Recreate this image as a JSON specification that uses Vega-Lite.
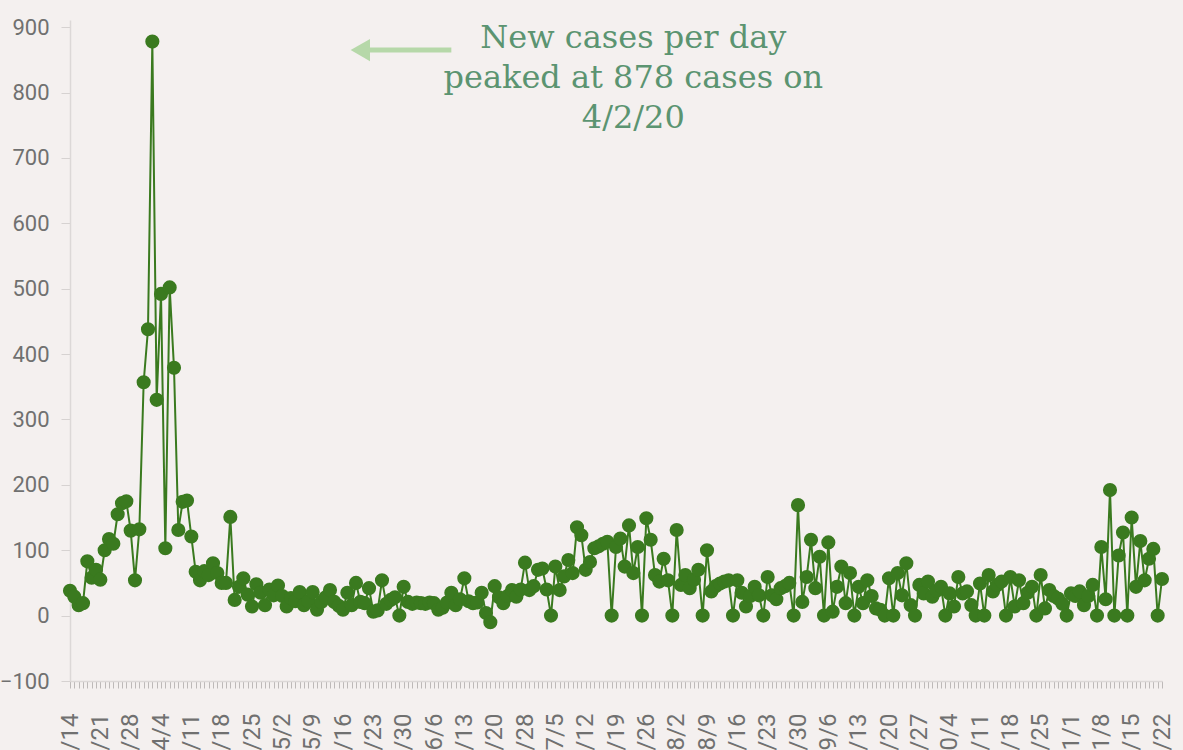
{
  "$schema": "https://vega.github.io/schema/vega-lite/v6.json",
  "autosize": {"type": "none"},
  "padding": {"left": 70, "top": 20, "right": 6, "bottom": 69},
  "width": 1107,
  "height": 661,
  "background": "#f4f0ef",
  "config": {"view": {"stroke": null}},
  "datasets": {
    "cases": [
      {"d":"3/14","v":38},{"d":"3/15","v":29},{"d":"3/16","v":16},{"d":"3/17","v":19},{"d":"3/18","v":83},{"d":"3/19","v":58},{"d":"3/20","v":70},{"d":"3/21","v":55},{"d":"3/22","v":100},{"d":"3/23","v":117},{"d":"3/24","v":110},{"d":"3/25","v":155},{"d":"3/26","v":172},{"d":"3/27","v":175},{"d":"3/28","v":130},{"d":"3/29","v":54},{"d":"3/30","v":132},{"d":"3/31","v":357},
      {"d":"4/1","v":438},{"d":"4/2","v":878},{"d":"4/3","v":330},{"d":"4/4","v":492},{"d":"4/5","v":103},{"d":"4/6","v":502},{"d":"4/7","v":379},{"d":"4/8","v":131},{"d":"4/9","v":174},{"d":"4/10","v":176},{"d":"4/11","v":121},{"d":"4/12","v":67},{"d":"4/13","v":54},{"d":"4/14","v":68},{"d":"4/15","v":62},{"d":"4/16","v":80},{"d":"4/17","v":65},{"d":"4/18","v":50},{"d":"4/19","v":50},{"d":"4/20","v":151},{"d":"4/21","v":24},{"d":"4/22","v":44},{"d":"4/23","v":57},{"d":"4/24","v":32},{"d":"4/25","v":14},{"d":"4/26","v":48},{"d":"4/27","v":35},{"d":"4/28","v":16},{"d":"4/29","v":40},{"d":"4/30","v":31},
      {"d":"5/1","v":46},{"d":"5/2","v":30},{"d":"5/3","v":14},{"d":"5/4","v":27},{"d":"5/5","v":22},{"d":"5/6","v":36},{"d":"5/7","v":16},{"d":"5/8","v":22},{"d":"5/9","v":36},{"d":"5/10","v":9},{"d":"5/11","v":21},{"d":"5/12","v":28},{"d":"5/13","v":39},{"d":"5/14","v":21},{"d":"5/15","v":15},{"d":"5/16","v":9},{"d":"5/17","v":35},{"d":"5/18","v":16},{"d":"5/19","v":50},{"d":"5/20","v":21},{"d":"5/21","v":19},{"d":"5/22","v":42},{"d":"5/23","v":6},{"d":"5/24","v":8},{"d":"5/25","v":54},{"d":"5/26","v":18},{"d":"5/27","v":24},{"d":"5/28","v":28},{"d":"5/29","v":0},{"d":"5/30","v":44},{"d":"5/31","v":21},
      {"d":"6/1","v":18},{"d":"6/2","v":20},{"d":"6/3","v":19},{"d":"6/4","v":18},{"d":"6/5","v":20},{"d":"6/6","v":19},{"d":"6/7","v":9},{"d":"6/8","v":12},{"d":"6/9","v":20},{"d":"6/10","v":35},{"d":"6/11","v":16},{"d":"6/12","v":25},{"d":"6/13","v":57},{"d":"6/14","v":22},{"d":"6/15","v":19},{"d":"6/16","v":20},{"d":"6/17","v":35},{"d":"6/18","v":4},{"d":"6/19","v":-10},{"d":"6/20","v":45},{"d":"6/21","v":28},{"d":"6/22","v":19},{"d":"6/23","v":30},{"d":"6/25","v":39},{"d":"6/26","v":29},{"d":"6/27","v":40},{"d":"6/28","v":81},{"d":"6/29","v":39},{"d":"6/30","v":45},
      {"d":"7/1","v":70},{"d":"7/2","v":72},{"d":"7/3","v":40},{"d":"7/4","v":0},{"d":"7/5","v":75},{"d":"7/6","v":39},{"d":"7/7","v":60},{"d":"7/8","v":85},{"d":"7/9","v":65},{"d":"7/10","v":135},{"d":"7/11","v":123},{"d":"7/12","v":70},{"d":"7/13","v":82},{"d":"7/14","v":103},{"d":"7/15","v":106},{"d":"7/16","v":110},{"d":"7/17","v":113},{"d":"7/18","v":0},{"d":"7/19","v":105},{"d":"7/20","v":118},{"d":"7/21","v":75},{"d":"7/22","v":138},{"d":"7/23","v":65},{"d":"7/24","v":105},{"d":"7/25","v":0},{"d":"7/26","v":149},{"d":"7/27","v":116},{"d":"7/28","v":62},{"d":"7/29","v":52},{"d":"7/30","v":87},{"d":"7/31","v":54},
      {"d":"8/1","v":0},{"d":"8/2","v":131},{"d":"8/3","v":47},{"d":"8/4","v":62},{"d":"8/5","v":42},{"d":"8/6","v":55},{"d":"8/7","v":70},{"d":"8/8","v":0},{"d":"8/9","v":100},{"d":"8/10","v":37},{"d":"8/11","v":45},{"d":"8/12","v":49},{"d":"8/13","v":52},{"d":"8/14","v":54},{"d":"8/15","v":0},{"d":"8/16","v":54},{"d":"8/17","v":35},{"d":"8/18","v":14},{"d":"8/19","v":30},{"d":"8/20","v":44},{"d":"8/21","v":31},{"d":"8/22","v":0},{"d":"8/23","v":59},{"d":"8/24","v":31},{"d":"8/25","v":25},{"d":"8/26","v":42},{"d":"8/27","v":45},{"d":"8/28","v":50},{"d":"8/29","v":0},{"d":"8/30","v":169},{"d":"8/31","v":21},
      {"d":"9/1","v":59},{"d":"9/2","v":116},{"d":"9/3","v":42},{"d":"9/4","v":90},{"d":"9/5","v":0},{"d":"9/6","v":112},{"d":"9/7","v":6},{"d":"9/8","v":44},{"d":"9/9","v":75},{"d":"9/10","v":19},{"d":"9/11","v":65},{"d":"9/12","v":0},{"d":"9/13","v":44},{"d":"9/14","v":19},{"d":"9/15","v":54},{"d":"9/16","v":30},{"d":"9/17","v":11},{"d":"9/18","v":9},{"d":"9/19","v":0},{"d":"9/20","v":57},{"d":"9/21","v":0},{"d":"9/22","v":65},{"d":"9/23","v":31},{"d":"9/24","v":80},{"d":"9/25","v":16},{"d":"9/26","v":0},{"d":"9/27","v":47},{"d":"9/28","v":34},{"d":"9/29","v":52},{"d":"9/30","v":29},
      {"d":"10/1","v":38},{"d":"10/2","v":44},{"d":"10/3","v":0},{"d":"10/4","v":34},{"d":"10/5","v":14},{"d":"10/6","v":59},{"d":"10/7","v":34},{"d":"10/8","v":37},{"d":"10/9","v":16},{"d":"10/10","v":0},{"d":"10/11","v":49},{"d":"10/12","v":0},{"d":"10/13","v":62},{"d":"10/14","v":37},{"d":"10/15","v":47},{"d":"10/16","v":52},{"d":"10/17","v":0},{"d":"10/18","v":59},{"d":"10/19","v":14},{"d":"10/20","v":54},{"d":"10/21","v":19},{"d":"10/22","v":35},{"d":"10/23","v":44},{"d":"10/24","v":0},{"d":"10/25","v":62},{"d":"10/26","v":11},{"d":"10/27","v":39},{"d":"10/28","v":30},{"d":"10/29","v":26},{"d":"10/30","v":18},{"d":"10/31","v":0},
      {"d":"11/1","v":34},{"d":"11/2","v":30},{"d":"11/3","v":37},{"d":"11/4","v":16},{"d":"11/5","v":30},{"d":"11/6","v":47},{"d":"11/7","v":0},{"d":"11/8","v":105},{"d":"11/9","v":25},{"d":"11/10","v":192},{"d":"11/11","v":0},{"d":"11/12","v":92},{"d":"11/13","v":127},{"d":"11/14","v":0},{"d":"11/15","v":150},{"d":"11/16","v":44},{"d":"11/17","v":114},{"d":"11/18","v":54},{"d":"11/19","v":87},{"d":"11/20","v":102},{"d":"11/21","v":0},{"d":"11/22","v":56}
    ],
    "note": [{"d": "7/23", "v": 868, "t": "New cases per day\npeaked at 878 cases on\n4/2/20"}],
    "arrow": [{"d": "5/22", "d2": "6/10", "v": 865}],
    "head": [{"d": "5/20", "v": 865}]
  },
  "encoding": {
    "x": {
      "field": "d", "type": "ordinal",
      "scale": {
        "type": "point", "padding": 0, "range": [0, 1092],
        "domain": ["3/14","3/15","3/16","3/17","3/18","3/19","3/20","3/21","3/22","3/23","3/24","3/25","3/26","3/27","3/28","3/29","3/30","3/31","4/1","4/2","4/3","4/4","4/5","4/6","4/7","4/8","4/9","4/10","4/11","4/12","4/13","4/14","4/15","4/16","4/17","4/18","4/19","4/20","4/21","4/22","4/23","4/24","4/25","4/26","4/27","4/28","4/29","4/30","5/1","5/2","5/3","5/4","5/5","5/6","5/7","5/8","5/9","5/10","5/11","5/12","5/13","5/14","5/15","5/16","5/17","5/18","5/19","5/20","5/21","5/22","5/23","5/24","5/25","5/26","5/27","5/28","5/29","5/30","5/31","6/1","6/2","6/3","6/4","6/5","6/6","6/7","6/8","6/9","6/10","6/11","6/12","6/13","6/14","6/15","6/16","6/17","6/18","6/19","6/20","6/21","6/22","6/23","6/25","6/26","6/27","6/28","6/29","6/30","7/1","7/2","7/3","7/4","7/5","7/6","7/7","7/8","7/9","7/10","7/11","7/12","7/13","7/14","7/15","7/16","7/17","7/18","7/19","7/20","7/21","7/22","7/23","7/24","7/25","7/26","7/27","7/28","7/29","7/30","7/31","8/1","8/2","8/3","8/4","8/5","8/6","8/7","8/8","8/9","8/10","8/11","8/12","8/13","8/14","8/15","8/16","8/17","8/18","8/19","8/20","8/21","8/22","8/23","8/24","8/25","8/26","8/27","8/28","8/29","8/30","8/31","9/1","9/2","9/3","9/4","9/5","9/6","9/7","9/8","9/9","9/10","9/11","9/12","9/13","9/14","9/15","9/16","9/17","9/18","9/19","9/20","9/21","9/22","9/23","9/24","9/25","9/26","9/27","9/28","9/29","9/30","10/1","10/2","10/3","10/4","10/5","10/6","10/7","10/8","10/9","10/10","10/11","10/12","10/13","10/14","10/15","10/16","10/17","10/18","10/19","10/20","10/21","10/22","10/23","10/24","10/25","10/26","10/27","10/28","10/29","10/30","10/31","11/1","11/2","11/3","11/4","11/5","11/6","11/7","11/8","11/9","11/10","11/11","11/12","11/13","11/14","11/15","11/16","11/17","11/18","11/19","11/20","11/21","11/22"]
      },
      "axis": {
        "title": null,
        "labelAngle": -90,
        "labelAlign": "right",
        "labelBaseline": "middle",
        "labelFont": "Roboto",
        "labelFontSize": 24,
        "labelColor": "#707070",
        "labelPadding": 25,
        "labelOverlap": false,
        "labelBound": false,
        "labelExpr": "indexof(['3/14','3/21','3/28','4/4','4/11','4/18','4/25','5/2','5/9','5/16','5/23','5/30','6/6','6/13','6/20','6/28','7/5','7/12','7/19','7/26','8/2','8/9','8/16','8/23','8/30','9/6','9/13','9/20','9/27','10/4','10/11','10/18','10/25','11/1','11/8','11/15','11/22'], datum.value) >= 0 ? datum.value : ''",
        "tickSize": 7,
        "tickColor": "#bdb9b8",
        "domainColor": "#dcd8d7",
        "domainWidth": 1.5,
        "grid": false
      }
    }
  },
  "layer": [
    {
      "data": {"name": "cases"},
      "mark": {"type": "line", "color": "#3a7a1f", "strokeWidth": 2},
      "encoding": {
        "y": {
          "field": "v", "type": "quantitative",
          "scale": {"domain": [-100, 911], "nice": false, "zero": false},
          "axis": {
            "title": null,
            "values": [-100, 0, 100, 200, 300, 400, 500, 600, 700, 800, 900],
            "labelFont": "Roboto",
            "labelFontSize": 22,
            "labelColor": "#707070",
            "labelPadding": 12,
            "tickSize": 9,
            "tickColor": "#d6d2d1",
            "domainColor": "#dcd8d7",
            "domainWidth": 1.5,
            "grid": false
          }
        }
      }
    },
    {
      "data": {"name": "cases"},
      "mark": {"type": "point", "filled": true, "color": "#3a7a1f", "opacity": 1, "size": 200},
      "encoding": {"y": {"field": "v", "type": "quantitative"}}
    },
    {
      "data": {"name": "arrow"},
      "mark": {"type": "rule", "color": "#b6d8a9", "strokeWidth": 5},
      "encoding": {"x2": {"field": "d2"}, "y": {"field": "v", "type": "quantitative"}}
    },
    {
      "data": {"name": "head"},
      "mark": {"type": "point", "shape": "triangle-left", "filled": true, "color": "#b6d8a9", "opacity": 1, "size": 500},
      "encoding": {"y": {"field": "v", "type": "quantitative"}}
    },
    {
      "data": {"name": "note"},
      "mark": {"type": "text", "font": "DejaVu Serif", "fontSize": 32, "color": "#5b9471", "align": "center", "baseline": "alphabetic", "lineBreak": "\n", "lineHeight": 40},
      "encoding": {"y": {"field": "v", "type": "quantitative"}, "text": {"field": "t"}}
    }
  ]
}
